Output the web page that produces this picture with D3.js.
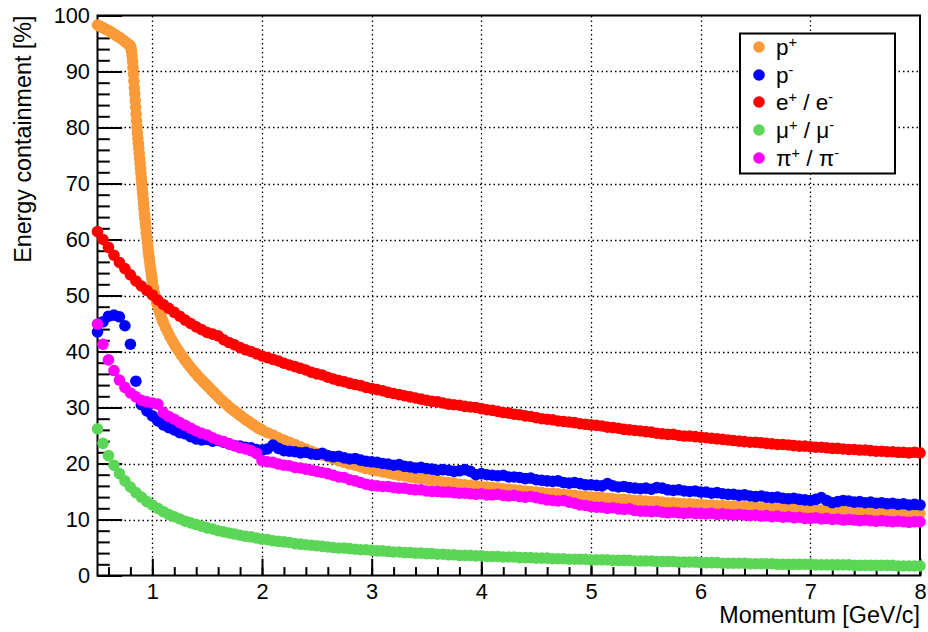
<!DOCTYPE html>
<html><head><meta charset="utf-8">
<script src="https://cdn.jsdelivr.net/npm/d3@7"></script>
<style>
body{margin:0;background:#fff;}
svg{display:block;font-family:"Liberation Sans",Arial,Helvetica,sans-serif;}
</style>
</head><body>
<svg id="chart" width="928" height="632"></svg>
<script>
// ---------- DATA ----------
// common momentum grid for p-, e, mu, pi: 0.50 .. 8.00 GeV/c, step 0.05
const momentum = d3.range(151).map(i => +(0.5 + i * 0.05).toFixed(2));

const eValues = [
 61.4, 60.0, 58.6, 57.2, 55.9, 54.8, 53.7, 52.6, 51.7, 50.9,
 50.1, 49.2, 48.4, 47.7, 47.0, 46.3, 45.6, 45.0, 44.4, 43.9,
 43.4, 43.1, 42.8, 42.1, 41.6, 41.2, 40.7, 40.3, 40.0, 39.6,
 39.2, 38.9, 38.6, 38.3, 37.9, 37.6, 37.3, 37.0, 36.7, 36.3,
 36.0, 35.8, 35.4, 35.1, 34.8, 34.6, 34.3, 34.1, 33.9, 33.6,
 33.4, 33.2, 33.0, 32.7, 32.5, 32.3, 32.1, 31.9, 31.7, 31.5,
 31.3, 31.1, 31.0, 30.8, 30.6, 30.5, 30.4, 30.2, 30.1, 30.0,
 29.8, 29.6, 29.5, 29.3, 29.1, 29.0, 28.8, 28.7, 28.5, 28.4,
 28.2, 28.0, 27.9, 27.8, 27.6, 27.5, 27.4, 27.3, 27.1, 27.0,
 26.9, 26.8, 26.7, 26.5, 26.4, 26.3, 26.1, 26.0, 25.9, 25.8,
 25.7, 25.6, 25.4, 25.3, 25.2, 25.2, 25.0, 24.9, 24.9, 24.8,
 24.7, 24.6, 24.5, 24.4, 24.3, 24.2, 24.1, 24.0, 23.9, 23.8,
 23.8, 23.7, 23.6, 23.5, 23.4, 23.4, 23.3, 23.2, 23.1, 23.1,
 23.0, 22.9, 22.9, 22.8, 22.7, 22.7, 22.6, 22.5, 22.5, 22.4,
 22.4, 22.3, 22.2, 22.2, 22.1, 22.1, 22.0, 22.0, 21.9, 22.0,
 21.9
];

const muValues = [
 26.2, 23.6, 21.4, 19.7, 18.2, 16.9, 15.8, 14.8, 14.0, 13.2,
 12.6, 12.0, 11.4, 10.9, 10.5, 10.1, 9.7, 9.4, 9.1, 8.8,
 8.5, 8.3, 8.0, 7.8, 7.6, 7.4, 7.2, 7.0, 6.9, 6.7,
 6.5, 6.4, 6.2, 6.1, 6.0, 5.9, 5.7, 5.6, 5.5, 5.4,
 5.3, 5.2, 5.1, 5.0, 4.9, 4.9, 4.8, 4.7, 4.6, 4.6,
 4.5, 4.4, 4.4, 4.3, 4.2, 4.2, 4.1, 4.1, 4.0, 4.0,
 3.9, 3.9, 3.8, 3.8, 3.7, 3.7, 3.6, 3.6, 3.6, 3.5,
 3.5, 3.4, 3.4, 3.4, 3.3, 3.3, 3.3, 3.2, 3.2, 3.2,
 3.1, 3.1, 3.1, 3.0, 3.0, 3.0, 2.9, 2.9, 2.9, 2.9,
 2.8, 2.8, 2.8, 2.8, 2.7, 2.7, 2.7, 2.7, 2.6, 2.6,
 2.6, 2.6, 2.5, 2.5, 2.5, 2.5, 2.4, 2.4, 2.4, 2.4,
 2.3, 2.3, 2.3, 2.3, 2.2, 2.2, 2.2, 2.2, 2.2, 2.1,
 2.1, 2.1, 2.1, 2.1, 2.0, 2.0, 2.0, 2.0, 2.0, 2.0,
 2.0, 1.9, 1.9, 1.9, 1.9, 1.9, 1.9, 1.9, 1.8, 1.8,
 1.8, 1.8, 1.8, 1.8, 1.8, 1.8, 1.7, 1.7, 1.7, 1.7,
 1.7
];

const pMinusValues = [
 43.5, 45.3, 46.3, 46.5, 46.2, 44.6, 41.3, 34.7, 30.5, 29.4,
 28.5, 27.6, 26.9, 26.4, 26.0, 25.5, 25.3, 24.8, 24.4, 24.2,
 24.3, 24.0, 24.1, 23.8, 23.5, 23.2, 23.1, 22.9, 22.8, 22.5,
 22.4, 22.6, 23.3, 22.7, 22.3, 22.2, 22.1, 21.9, 22.0, 21.7,
 21.6, 21.8, 21.4, 21.2, 21.3, 21.0, 20.8, 20.9, 20.6, 20.4,
 20.3, 20.2, 20.0, 19.9, 19.7, 19.8, 19.5, 19.4, 19.2, 19.3,
 19.1, 19.0, 18.8, 18.9, 18.8, 18.6, 18.7, 18.9, 18.6, 18.0,
 18.2, 18.0, 17.9, 17.8, 17.9, 17.6, 17.6, 17.5, 17.3, 17.4,
 17.1, 17.0, 16.9, 16.8, 16.9, 16.6, 16.5, 16.6, 16.4, 16.2,
 16.2, 16.1, 16.0, 16.4, 16.0, 15.8, 15.9, 15.7, 15.6, 15.5,
 15.6, 15.4, 15.7, 15.6, 15.3, 15.2, 15.3, 15.1, 15.0, 15.1,
 14.9, 14.9, 14.7, 14.8, 14.6, 14.5, 14.5, 14.3, 14.4, 14.2,
 14.1, 14.2, 14.0, 13.9, 14.0, 13.8, 13.7, 13.8, 13.6, 13.5,
 13.4, 13.6, 13.9, 13.4, 13.0, 13.2, 13.4, 13.3, 13.1, 13.2,
 13.0, 13.1, 12.9, 13.0, 12.8, 12.9, 12.7, 12.8, 12.6, 12.7,
 12.6
];

const piValues = [
 44.9, 41.3, 38.5, 36.6, 34.9, 33.6, 32.6, 31.9, 31.3, 31.0,
 30.8, 30.6, 29.1, 28.4, 27.9, 27.3, 26.8, 26.3, 25.8, 25.4,
 25.1, 24.6, 24.2, 23.9, 23.5, 23.2, 22.8, 22.6, 22.3, 21.8,
 20.5, 20.3, 20.2, 19.9, 19.7, 19.6, 19.3, 19.2, 19.0, 18.8,
 18.6, 18.4, 18.2, 17.9, 17.6, 17.5, 17.1, 16.9, 16.6, 16.3,
 16.1, 16.0, 15.9, 15.9, 15.7, 15.6, 15.6, 15.4, 15.3, 15.3,
 15.1, 15.0, 15.0, 14.9, 14.9, 14.8, 14.7, 14.7, 14.6, 14.5,
 14.6, 14.4, 14.4, 14.5, 14.3, 14.2, 14.3, 14.1, 14.0, 14.1,
 13.9, 13.7, 13.5, 13.4, 13.3, 13.4, 13.1, 12.9, 12.6, 12.5,
 12.3, 12.2, 12.2, 12.0, 12.1, 11.9, 11.8, 11.9, 11.6, 11.5,
 11.5, 11.4, 11.5, 11.3, 11.2, 11.3, 11.2, 11.1, 11.2, 11.1,
 11.1, 11.0, 11.1, 10.9, 11.0, 10.9, 10.8, 10.9, 10.8, 10.7,
 10.8, 10.6, 10.7, 10.5, 10.6, 10.4, 10.5, 10.3, 10.4, 10.2,
 10.2, 10.3, 10.1, 10.2, 10.0, 10.1, 9.9, 10.0, 9.9, 9.8,
 9.9, 9.8, 9.7, 9.8, 9.7, 9.6, 9.7, 9.6, 9.5, 9.6,
 9.6
];

// p+ is sampled more densely (steep drop near 0.8 GeV/c)
const pPlusHeadMomentum = [
 0.50, 0.52, 0.54, 0.56, 0.58, 0.60, 0.62, 0.64, 0.66, 0.68, 0.70, 0.72, 0.74, 0.76, 0.78,
 0.800, 0.805, 0.810, 0.815, 0.820, 0.824, 0.828, 0.832, 0.836, 0.840, 0.844, 0.848, 0.852, 0.856,
 0.860, 0.864, 0.868, 0.872, 0.876, 0.880, 0.884, 0.888, 0.892, 0.896, 0.900, 0.904, 0.908, 0.912,
 0.916, 0.920, 0.924, 0.928, 0.932, 0.936, 0.940, 0.945, 0.950, 0.955, 0.960, 0.965, 0.970, 0.975,
 0.980, 0.985, 0.990, 0.995, 1.000,
 1.01, 1.02, 1.03, 1.04, 1.05, 1.06, 1.07, 1.08, 1.09, 1.10, 1.12, 1.14, 1.16, 1.18, 1.20
];
const pPlusHeadValues = [
 98.3, 98.1, 97.9, 97.7, 97.5, 97.3, 97.1, 96.8, 96.6, 96.3, 96.1, 95.8, 95.5, 95.2, 94.9,
 94.6, 94.2, 93.6, 92.8, 91.8, 90.7, 89.5, 88.3, 87.1, 86.0, 84.8, 83.6, 82.4, 81.2,
 80.1, 79.1, 78.1, 77.2, 76.3, 75.4, 74.5, 73.6, 72.7, 71.8, 70.9, 70.0, 69.1, 68.2,
 67.3, 66.4, 65.5, 64.6, 63.8, 63.0, 62.2, 61.2, 60.3, 59.4, 58.5, 57.7, 56.9, 56.1,
 55.3, 54.6, 53.9, 53.2, 52.5,
 51.4, 50.4, 49.5, 48.7, 48.0, 47.4, 46.8, 46.2, 45.7, 45.2, 44.3, 43.5, 42.7, 42.0, 41.3
];
// 1.22 .. 2.00 step 0.02
const pPlusMidMomentum = d3.range(40).map(i => +(1.22 + i * 0.02).toFixed(2));
const pPlusMidValues = [
 40.7, 40.1, 39.5, 39.0, 38.4, 37.9, 37.4, 36.9, 36.4, 36.0,
 35.5, 35.1, 34.7, 34.3, 33.9, 33.5, 33.1, 32.7, 32.3, 31.9,
 31.5, 31.2, 30.8, 30.5, 30.1, 29.8, 29.5, 29.2, 28.9, 28.6,
 28.3, 28.0, 27.7, 27.5, 27.2, 26.9, 26.7, 26.4, 26.2, 26.0
];
// 2.05 .. 8.00 step 0.05
const pPlusTailMomentum = d3.range(120).map(i => +(2.05 + i * 0.05).toFixed(2));
const pPlusTailValues = [
 25.5, 25.1, 24.6, 24.2, 23.8, 23.4, 23.0, 22.6, 22.2, 21.8,
 21.5, 21.2, 20.8, 20.5, 20.2, 19.9, 19.7, 19.4, 19.1, 18.9,
 18.7, 18.5, 18.3, 18.1, 17.9, 17.8, 17.6, 17.4, 17.3, 17.2,
 17.0, 16.9, 16.7, 16.6, 16.5, 16.3, 16.2, 16.1, 16.0, 15.9,
 15.8, 15.7, 15.6, 15.5, 15.4, 15.3, 15.2, 15.1, 15.0, 14.9,
 14.8, 14.7, 14.7, 14.6, 14.5, 14.4, 14.3, 14.2, 14.1, 14.0,
 14.0, 13.9, 13.8, 13.7, 13.6, 13.6, 13.5, 13.4, 13.4, 13.3,
 13.2, 13.2, 13.1, 13.0, 13.0, 12.9, 12.8, 12.8, 12.7, 12.7,
 12.6, 12.6, 12.5, 12.5, 12.4, 12.4, 12.3, 12.3, 12.2, 12.2,
 12.1, 12.1, 12.0, 12.0, 12.0, 11.9, 11.9, 11.8, 11.8, 11.8,
 11.7, 11.7, 11.6, 11.6, 11.6, 11.5, 11.5, 11.5, 11.4, 11.4,
 11.4, 11.3, 11.3, 11.3, 11.2, 11.2, 11.2, 11.1, 11.1, 11.1
];

const xTickLabels = ["1","2","3","4","5","6","7","8"];
const yTickLabels = ["0","10","20","30","40","50","60","70","80","90","100"];
const seriesNames = ["p+", "p-", "e+ / e-", "\u03bc+ / \u03bc-", "\u03c0+ / \u03c0-"];
const seriesColors = ["#fb9a38", "#0000ff", "#ff0000", "#5bd657", "#ff00ff"];

// ---------- BUILD ----------
const zip = (xs, ys) => xs.map((p, i) => ({p, v: ys[i]}));
const pPlus = zip(pPlusHeadMomentum, pPlusHeadValues)
  .concat(zip(pPlusMidMomentum, pPlusMidValues))
  .concat(zip(pPlusTailMomentum, pPlusTailValues));
const series = [
  pPlus,
  zip(momentum, pMinusValues),
  zip(momentum, eValues),
  zip(momentum, muValues),
  zip(momentum, piValues)
];

const svg = d3.select("#chart");
const X0 = 97.5, X1 = 920, Y0 = 575.5, Y1 = 15.5;
const x = d3.scaleLinear().domain([0.5, 8]).range([X0, X1]);
const y = d3.scaleLinear().domain([0, 100]).range([Y0, Y1]);
const R = 5.8;

svg.append("rect").attr("width", 928).attr("height", 632).attr("fill", "#fff");

// grid
const xMajor = xTickLabels.map(Number);
const yMajor = yTickLabels.map(Number);
const grid = svg.append("g").attr("stroke", "#000").attr("stroke-width", 1.3)
  .attr("stroke-dasharray", "1.5,3");
grid.selectAll("line.gx").data(xMajor.filter(d => d < 8)).join("line")
  .attr("x1", d => Math.round(x(d)) + 0.5).attr("x2", d => Math.round(x(d)) + 0.5).attr("y1", Y0).attr("y2", Y1);
grid.selectAll("line.gy").data(yMajor.filter(d => d > 0 && d < 100)).join("line")
  .attr("class", "gy")
  .attr("y1", d => Math.round(y(d)) + 0.5).attr("y2", d => Math.round(y(d)) + 0.5).attr("x1", X0).attr("x2", X1);

// axes
const fontSize = 21.8;
const xMinor = d3.range(0.6, 8.01, 0.2).map(d => +d.toFixed(1));
const yMinor = d3.range(0, 101, 2);

const gxMinor = svg.append("g").attr("transform", `translate(0,${Y0})`)
  .call(d3.axisBottom(x).tickValues(xMinor).tickSize(-8.4).tickFormat(""));
const gx = svg.append("g").attr("transform", `translate(0,${Y0})`)
  .call(d3.axisBottom(x).tickValues(xMajor).tickSize(-16.8).tickPadding(8)
    .tickFormat((d, i) => xTickLabels[i]));
const gyMinor = svg.append("g").attr("transform", `translate(${X0},0)`)
  .call(d3.axisLeft(y).tickValues(yMinor).tickSize(-12.3).tickFormat(""));
const gy = svg.append("g").attr("transform", `translate(${X0},0)`)
  .call(d3.axisLeft(y).tickValues(yMajor).tickSize(-24.7).tickPadding(7.5)
    .tickFormat((d, i) => yTickLabels[i]));
[gxMinor, gx, gyMinor, gy].forEach(g => {
  g.select(".domain").remove();
  g.selectAll(".tick line").attr("stroke", "#000").attr("stroke-width", 2);
  g.selectAll(".tick text").attr("fill", "#000").attr("font-size", fontSize)
    .attr("font-family", '"Liberation Sans", Arial, sans-serif');
});

// frame
svg.append("rect").attr("x", X0).attr("y", Y1).attr("width", X1 - X0).attr("height", Y0 - Y1)
  .attr("fill", "none").attr("stroke", "#000").attr("stroke-width", 2);

// titles
svg.append("text").attr("x", X1).attr("y", 623).attr("text-anchor", "end")
  .attr("font-size", 23.3).attr("fill", "#000").text("Momentum [GeV/c]");
svg.append("text").attr("transform", `translate(31,${Y1}) rotate(-90)`)
  .attr("text-anchor", "end").attr("font-size", 23.3).attr("fill", "#000")
  .text("Energy containment [%]");

// markers
const marks = svg.append("g");
series.forEach((s, k) => {
  marks.append("g").attr("fill", seriesColors[k])
    .selectAll("circle").data(s).join("circle")
    .attr("cx", d => x(d.p)).attr("cy", d => y(d.v)).attr("r", R);
});

// legend
const lg = svg.append("g");
lg.append("rect").attr("x", 740).attr("y", 33.5).attr("width", 155).attr("height", 140)
  .attr("fill", "#fff").attr("stroke", "#000").attr("stroke-width", 2);
const rowY = [47, 75, 102, 130, 158];
seriesNames.forEach((name, k) => {
  lg.append("circle").attr("cx", 759).attr("cy", rowY[k]).attr("r", R).attr("fill", seriesColors[k]);
  const t = lg.append("text").attr("x", 776).attr("y", rowY[k] + 8).attr("font-size", 22.5).attr("fill", "#000");
  const parts = name.match(/[+\-]|[^+\-]+/g);
  parts.forEach(part => {
    if (part === "+" || part === "-") {
      t.append("tspan").attr("font-size", 14.5).attr("baseline-shift", "55%").text(part);
    } else {
      t.append("tspan").text(part);
    }
  });
});
</script>
</body></html>
